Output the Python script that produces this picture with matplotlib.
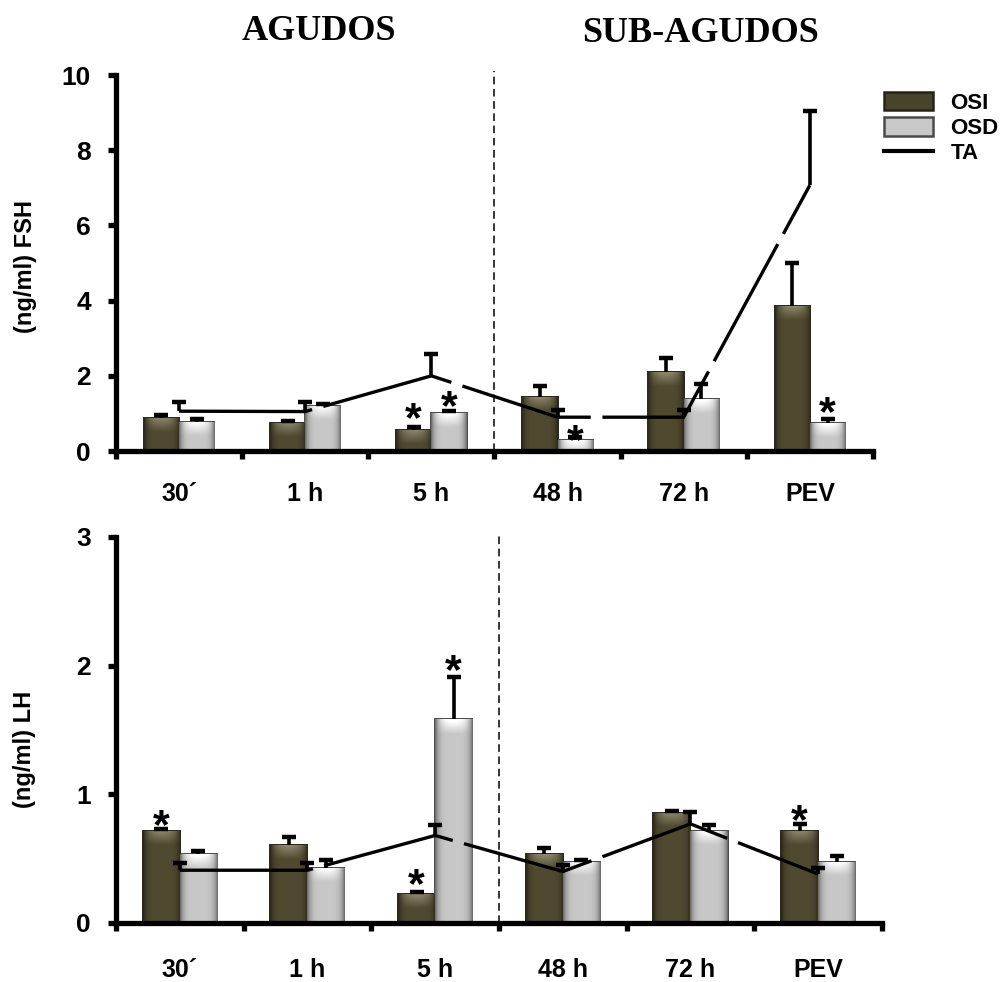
import numpy as np
import matplotlib
matplotlib.use('Agg')
import matplotlib.pyplot as plt
from matplotlib.patches import Patch
from matplotlib.lines import Line2D

plt.rcParams['font.family'] = ['Liberation Sans', 'DejaVu Sans']
plt.rcParams['font.weight'] = 'bold'

# data
cats = ['30´', '1 h', '5 h', '48 h', '72 h', 'PEV']

fsh_osi = [0.88, 0.75, 0.56, 1.45, 2.10, 3.86]
fsh_osi_err = [0.07, 0.05, 0.07, 0.27, 0.37, 1.14]
fsh_osd = [0.78, 1.20, 1.00, 0.29, 1.38, 0.74]
fsh_osd_err = [0.07, 0.06, 0.07, 0.09, 0.40, 0.11]
fsh_ta = [1.06, 1.05, 2.00, 0.90, 0.90, 7.07]
fsh_ta_err = [0.25, 0.26, 0.58, 0.19, 0.18, 1.98]
# (category index, 'osi'/'osd', y of star centre)
fsh_stars = [(2, 'osi', 1.09), (2, 'osd', 1.40), (3, 'osd', 0.50), (5, 'osd', 1.25)]

lh_osi = [0.715, 0.606, 0.225, 0.536, 0.857, 0.715]
lh_osi_err = [0.015, 0.06, 0.015, 0.05, 0.01, 0.055]
lh_osd = [0.536, 0.43, 1.585, 0.476, 0.715, 0.476]
lh_osd_err = [0.02, 0.06, 0.325, 0.01, 0.045, 0.045]
lh_ta = [0.41, 0.41, 0.68, 0.40, 0.77, 0.38]
lh_ta_err = [0.06, 0.06, 0.08, 0.05, 0.09, 0.05]
lh_stars = [(0, 'osi', 0.82), (2, 'osi', 0.36), (2, 'osd', 2.03), (5, 'osi', 0.86)]

OSI_COL = np.array([80, 74, 48]) / 255.
OSD_COL = np.array([200, 200, 200]) / 255.


def shade(ax, bars, base):
    # fake the bevelled look of the original bars
    u = np.linspace(0, 1, 40)
    prof = 1 - 0.45 * np.abs(2 * u - 1) ** 5
    for b in bars:
        x, y = b.get_x(), b.get_y()
        w, h = b.get_width(), b.get_height()
        if h <= 0:
            continue
        p0 = ax.transData.transform((x, y))
        p1 = ax.transData.transform((x + w, y + h))
        hpx = max(p1[1] - p0[1], 1)
        v = np.linspace(1, 0, 120)  # top -> bottom
        band = np.clip(1 - (1 - v) * hpx / 14., 0, 1)
        img = np.ones((120, 40, 3))
        for c in range(3):
            col = base[c] * prof[None, :] * np.ones((120, 1))
            col = col + band[:, None] * 0.25 * (1 - np.abs(2 * u - 1)[None, :] ** 2)
            img[:, :, c] = np.clip(col, 0, 1)
        im = ax.imshow(img, extent=(x, x + w, y, y + h), aspect='auto',
                       interpolation='bilinear', zorder=b.get_zorder() + 0.1)
        im.set_clip_path(b)


def up_err(ax, x, y, e):
    # one-sided error bars: stem + top cap only
    x = np.asarray(x); y = np.asarray(y); e = np.asarray(e)
    ax.vlines(x, y, y + e, color='black', lw=2.6, zorder=4)
    ax.plot(x, y + e, ls='none', marker='_', ms=10, mew=3.2, color='black', zorder=4)


def panel(ax, osi, osi_err, osd, osd_err, ta, ta_err, stars, ymax, ystep, ylabel, bw, xpad):
    xc = np.arange(len(cats)) + 0.5
    ax.set_xlim(0, len(cats))
    ax.set_ylim(0, ymax)
    b1 = ax.bar(xc - bw / 2, osi, bw, color=OSI_COL, edgecolor='#26241a', linewidth=1.4, zorder=2)
    b2 = ax.bar(xc + bw / 2, osd, bw, color=OSD_COL, edgecolor='#4a4a4a', linewidth=1.4, zorder=2)
    up_err(ax, xc - bw / 2, osi, osi_err)
    up_err(ax, xc + bw / 2, osd, osd_err)
    up_err(ax, xc, ta, ta_err)
    ln, = ax.plot(xc, ta, color='black', lw=2.4, zorder=5)
    ln.set_dashes((40, 3.5))
    ax.axvline(3, ymin=0, ymax=1.01, color='black', lw=1.1, ls=(0, (5, 3)), zorder=1, clip_on=False)
    for i, side, yv in stars:
        xs = xc[i] - bw / 2 if side == 'osi' else xc[i] + bw / 2
        ax.annotate('*', (xs, yv), xytext=(0, -15), textcoords='offset points',
                    ha='center', va='baseline', fontsize=31, fontweight='bold', zorder=6)
    fig.canvas.draw()
    shade(ax, b1, OSI_COL)
    shade(ax, b2, OSD_COL)
    ax.set_xlim(0, len(cats))
    ax.set_ylim(0, ymax)

    for s in ['top', 'right']:
        ax.spines[s].set_visible(False)
    for s in ['left', 'bottom']:
        ax.spines[s].set_linewidth(3.8)
    ax.set_yticks(np.arange(0, ymax + 0.01, ystep))
    ax.tick_params(axis='y', direction='out', length=6, width=3.8, pad=12, labelsize=19)
    ax.set_xticks(np.arange(0, len(cats) + 1))
    ax.set_xticklabels([])
    ax.tick_params(axis='x', which='major', direction='out', length=6, width=3.8)
    ax.set_xticks(xc, minor=True)
    ax.set_xticklabels(cats, minor=True, fontsize=18, fontweight='bold')
    ax.tick_params(axis='x', which='minor', length=0, pad=xpad)
    ax.set_ylabel(ylabel, fontsize=17, fontweight='bold')


fig = plt.figure(figsize=(10.08, 9.82), dpi=100)
ax1 = fig.add_axes([0.115, 0.5407, 0.751, 0.3829])
ax2 = fig.add_axes([0.115, 0.0601, 0.760, 0.3931])

panel(ax1, fsh_osi, fsh_osi_err, fsh_osd, fsh_osd_err, fsh_ta, fsh_ta_err, fsh_stars,
      10, 2, '(ng/ml) FSH', 0.28, 22)
panel(ax2, lh_osi, lh_osi_err, lh_osd, lh_osd_err, lh_ta, lh_ta_err, lh_stars,
      3, 1, '(ng/ml) LH', 0.29, 25)
ax1.yaxis.set_label_coords(-0.104, 0.49)
ax2.yaxis.set_label_coords(-0.104, 0.45)

fig.text(319 / 1008, 1 - 31 / 982, 'AGUDOS', ha='center', va='center',
         family=['Liberation Serif', 'DejaVu Serif'], fontsize=26, fontweight='bold')
fig.text(700 / 1008, 1 - 33 / 982, 'SUB-AGUDOS', ha='center', va='center',
         family=['Liberation Serif', 'DejaVu Serif'], fontsize=26, fontweight='bold')

handles = [Patch(facecolor=OSI_COL * 0.9, edgecolor='#26241a', lw=1.8),
           Patch(facecolor=OSD_COL, edgecolor='#4a4a4a', lw=1.8),
           Line2D([0], [0], color='black', lw=3)]
fig.legend(handles, ['OSI', 'OSD', 'TA'], loc='upper left',
           bbox_to_anchor=(875 / 1008, 1 - 83 / 982), frameon=False,
           prop=dict(size=16, weight='bold'), handlelength=2.2, handleheight=0.9,
           labelspacing=0.15, handletextpad=0.8, borderaxespad=0)

fig.savefig('out.png', dpi=100)
